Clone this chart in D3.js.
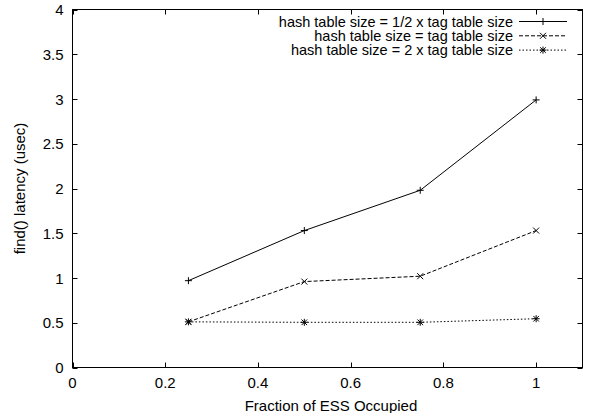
<!DOCTYPE html>
<html>
<head>
<meta charset="utf-8">
<script src="https://cdn.jsdelivr.net/npm/d3@7"></script>
<style>
    body { margin: 0; background: #fff; }
    svg { display: block; font-family: "Liberation Sans", Arial, Helvetica, sans-serif; }
</style>
</head>
<body>
<div id="chart"></div>
<script>
// Data
const occupied = [0.25, 0.5, 0.75, 1];
const halfTable = [0.97, 1.53, 1.98, 2.99];
const sameTable = [0.51, 0.96, 1.02, 1.53];
const doubleTable = [0.51, 0.505, 0.505, 0.545];

const seriesNames = [
    "hash table size = 1/2 x tag table size",
    "hash table size = tag table size",
    "hash table size = 2 x tag table size"
];
const xTicks = [0, 0.2, 0.4, 0.6, 0.8, 1];
const yTicks = [0, 0.5, 1, 1.5, 2, 2.5, 3, 3.5, 4];

const width = 589;
const height = 413;
const margin = { top: 9.5, right: 6.5, bottom: 45.5, left: 72.5 };

const x = d3.scaleLinear().domain([0, 1.1]).range([margin.left, width - margin.right]);
const y = d3.scaleLinear().domain([0, 4]).range([height - margin.bottom, margin.top]);

const series = [
    { name: seriesNames[0], values: halfTable, dash: null, marker: "plus" },
    { name: seriesNames[1], values: sameTable, dash: "4,2", marker: "cross" },
    { name: seriesNames[2], values: doubleTable, dash: "1.5,2", marker: "star" }
];

const svg = d3.select("#chart")
    .append("svg")
    .attr("width", width)
    .attr("height", height)
    .style("font-size", "15px");

const tickLen = 5;

// ticks on all four sides, pointing inward
const axes = svg.append("g").attr("stroke", "#000").attr("stroke-width", 1);

axes.selectAll(".xt-bottom")
    .data(xTicks)
    .join("line")
    .attr("x1", d => Math.round(x(d)) + 0.5)
    .attr("x2", d => Math.round(x(d)) + 0.5)
    .attr("y1", y(0))
    .attr("y2", y(0) - tickLen);

axes.selectAll(".xt-top")
    .data(xTicks)
    .join("line")
    .attr("x1", d => Math.round(x(d)) + 0.5)
    .attr("x2", d => Math.round(x(d)) + 0.5)
    .attr("y1", y(4))
    .attr("y2", y(4) + tickLen);

axes.selectAll(".yt-left")
    .data(yTicks)
    .join("line")
    .attr("x1", x(0))
    .attr("x2", x(0) + tickLen)
    .attr("y1", d => Math.round(y(d)) + 0.5)
    .attr("y2", d => Math.round(y(d)) + 0.5);

axes.selectAll(".yt-right")
    .data(yTicks)
    .join("line")
    .attr("x1", x(1.1))
    .attr("x2", x(1.1) - tickLen)
    .attr("y1", d => Math.round(y(d)) + 0.5)
    .attr("y2", d => Math.round(y(d)) + 0.5);

svg.append("rect")
    .attr("x", x(0))
    .attr("y", y(4))
    .attr("width", x(1.1) - x(0))
    .attr("height", y(0) - y(4))
    .attr("fill", "none")
    .attr("stroke", "#000")
    .attr("stroke-width", 1);

// tick labels
svg.append("g")
    .selectAll("text")
    .data(xTicks)
    .join("text")
    .attr("x", d => x(d))
    .attr("y", 388)
    .attr("text-anchor", "middle")
    .text(d => d3.format("")(d));

svg.append("g")
    .selectAll("text")
    .data(yTicks)
    .join("text")
    .attr("x", 63.5)
    .attr("y", d => y(d) + 5.5)
    .attr("text-anchor", "end")
    .text(d => d3.format("")(d));

// axis titles
svg.append("text")
    .attr("x", 331)
    .attr("y", 411)
    .attr("text-anchor", "middle")
    .text("Fraction of ESS Occupied");

svg.append("text")
    .attr("transform", `translate(24.5,${(y(0) + y(4)) / 2}) rotate(-90)`)
    .attr("text-anchor", "middle")
    .text("find() latency (usec)");

function drawMarker(g, type, cx, cy) {
    const r = 3.5;
    const parts = [];
    if (type === "plus" || type === "star") {
        parts.push([cx - r, cy, cx + r, cy], [cx, cy - r, cx, cy + r]);
    }
    if (type === "cross" || type === "star") {
        const q = type === "star" ? 2.8 : 3;
        parts.push([cx - q, cy - q, cx + q, cy + q], [cx - q, cy + q, cx + q, cy - q]);
    }
    parts.forEach(p => {
        g.append("line")
            .attr("x1", p[0]).attr("y1", p[1])
            .attr("x2", p[2]).attr("y2", p[3])
            .attr("stroke", "#000")
            .attr("stroke-width", 1);
    });
}

const line = d3.line()
    .x((d, i) => x(occupied[i]))
    .y(d => y(d));

series.forEach((s, k) => {
    const g = svg.append("g");
    g.append("path")
        .datum(s.values)
        .attr("d", line)
        .attr("fill", "none")
        .attr("stroke", "#000")
        .attr("stroke-width", 1)
        .attr("stroke-dasharray", s.dash);
    s.values.forEach((v, i) => drawMarker(g, s.marker, x(occupied[i]), y(v)));

    // legend entry
    const ly = 21.5 + k * 14.3;
    g.append("text")
        .attr("x", 513)
        .attr("y", ly + 5)
        .attr("text-anchor", "end")
        .style("font-size", "14.5px")
        .text(s.name);
    g.append("line")
        .attr("x1", 519)
        .attr("x2", 567)
        .attr("y1", ly)
        .attr("y2", ly)
        .attr("stroke", "#000")
        .attr("stroke-width", 1)
        .attr("stroke-dasharray", s.dash);
    drawMarker(g, s.marker, 543, ly);
});
</script>
</body>
</html>
